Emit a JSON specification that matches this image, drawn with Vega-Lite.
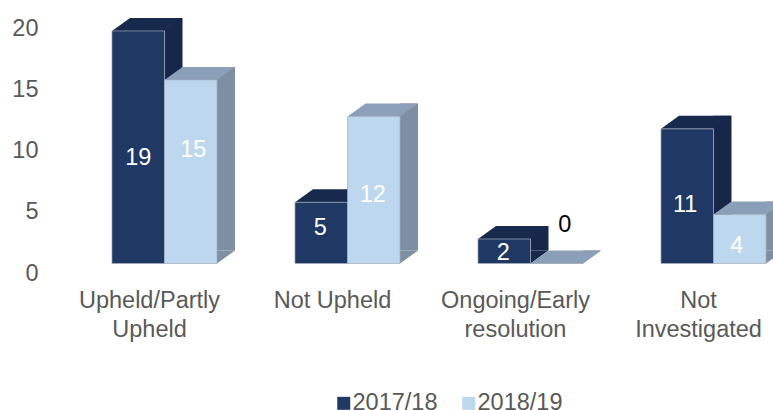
{"$schema":"https://vega.github.io/schema/vega-lite/v6.json","width":732,"height":244.8,"autosize":"none","padding":{"left":73,"top":18.7,"right":0,"bottom":146.5},"background":"white","config":{"view":{"stroke":null},"text":{"font":"Liberation Sans"}},"data":{"values":[{"category":"Upheld/Partly Upheld","series":"2017/18","value":19},{"category":"Upheld/Partly Upheld","series":"2018/19","value":15},{"category":"Not Upheld","series":"2017/18","value":5},{"category":"Not Upheld","series":"2018/19","value":12},{"category":"Ongoing/Early resolution","series":"2017/18","value":2},{"category":"Ongoing/Early resolution","series":"2018/19","value":0},{"category":"Not Investigated","series":"2017/18","value":11},{"category":"Not Investigated","series":"2018/19","value":4}]},"encoding":{"x":{"field":"category","type":"nominal","sort":null,"title":null,"scale":{"domain":["Upheld/Partly Upheld","Not Upheld","Ongoing/Early resolution","Not Investigated"],"paddingInner":0.426,"paddingOuter":0.213},"axis":{"domain":false,"ticks":false,"labelAngle":0,"labelFont":"Liberation Sans","labelFontSize":23.5,"labelColor":"#595959","labelPadding":25,"labelOffset":-15,"labelLimit":300,"labelOverlap":false,"labelLineHeight":29,"labelExpr":"datum.value=='Upheld/Partly Upheld'?['Upheld/Partly','Upheld']:datum.value=='Ongoing/Early resolution'?['Ongoing/Early','resolution']:datum.value=='Not Investigated'?['Not','Investigated']:datum.value"}},"y":{"field":"value","type":"quantitative","title":null,"scale":{"domain":[0,20],"nice":false},"axis":{"values":[0,5,10,15,20],"domain":false,"ticks":false,"grid":false,"labelFont":"Liberation Sans","labelFontSize":23.5,"labelColor":"#595959","labelPadding":35,"labelOffset":9.5}}},"layer":[{"transform":[{"filter":"datum.series=='2017/18'"}],"mark":{"type":"rule","strokeWidth":18,"xOffset":9,"yOffset":-13,"y2Offset":-13,"color":"#16274A"},"encoding":{"y2":{"datum":0}}},{"transform":[{"filter":"datum.series=='2017/18'"}],"mark":{"type":"point","shape":"M0,0L18,-13L0,-13Z","size":4,"filled":true,"opacity":1,"strokeWidth":0,"color":"#16274A"},"encoding":{"y":{"datum":0}}},{"transform":[{"filter":"datum.series=='2017/18'"}],"mark":{"type":"point","shape":"M-52.5,0L0,0L18,-13L-34.5,-13Z","size":4,"filled":true,"opacity":1,"strokeWidth":0,"color":"#17294C"}},{"transform":[{"filter":"datum.series=='2017/18'"}],"mark":{"type":"bar","stroke":"#A3ACBA","strokeWidth":0.7},"encoding":{"xOffset":{"field":"series","type":"nominal","scale":{"domain":["2017/18","2018/19"],"paddingInner":0,"paddingOuter":0}},"color":{"field":"series","type":"nominal","scale":{"domain":["2017/18","2018/19"],"range":["#1F3864","#BDD7EE"]},"legend":{"orient":"none","legendX":259,"legendY":372.5,"direction":"horizontal","title":null,"symbolType":"square","symbolSize":169,"symbolStrokeWidth":0,"labelFont":"Liberation Sans","labelFontSize":23.5,"labelColor":"#595959","labelOffset":-3,"columnPadding":19}}}},{"transform":[{"filter":"datum.series=='2018/19'"}],"mark":{"type":"rule","strokeWidth":18,"xOffset":61.5,"yOffset":-13,"y2Offset":-13,"color":"#7E8EA3"},"encoding":{"y2":{"datum":0}}},{"transform":[{"filter":"datum.series=='2018/19'"}],"mark":{"type":"point","shape":"M52.5,0L70.5,-13L52.5,-13Z","size":4,"filled":true,"opacity":1,"strokeWidth":0,"color":"#7E8EA3"},"encoding":{"y":{"datum":0}}},{"transform":[{"filter":"datum.series=='2018/19'"}],"mark":{"type":"point","shape":"M0,0L52.5,0L70.5,-13L18,-13Z","size":4,"filled":true,"opacity":1,"strokeWidth":0,"color":"#8C9FB8"}},{"transform":[{"filter":"datum.series=='2018/19'"}],"mark":{"type":"bar","stroke":"#A3ACBA","strokeWidth":0.7},"encoding":{"xOffset":{"field":"series","type":"nominal","scale":{"domain":["2017/18","2018/19"],"paddingInner":0,"paddingOuter":0}},"color":{"field":"series","type":"nominal"}}},{"transform":[{"filter":"datum.series=='2017/18'&&datum.category=='Upheld/Partly Upheld'"}],"mark":{"type":"text","fontSize":23.5,"color":"white","yOffset":127,"xOffset":-26.25},"encoding":{"text":{"field":"value"}}},{"transform":[{"filter":"datum.series=='2018/19'&&datum.category=='Upheld/Partly Upheld'"}],"mark":{"type":"text","fontSize":23.5,"color":"white","yOffset":70,"xOffset":28.75},"encoding":{"text":{"field":"value"}}},{"transform":[{"filter":"datum.series=='2017/18'&&datum.category=='Not Upheld'"}],"mark":{"type":"text","fontSize":23.5,"color":"white","yOffset":26,"xOffset":-27.25},"encoding":{"text":{"field":"value"}}},{"transform":[{"filter":"datum.series=='2018/19'&&datum.category=='Not Upheld'"}],"mark":{"type":"text","fontSize":23.5,"color":"white","yOffset":78,"xOffset":25.25},"encoding":{"text":{"field":"value"}}},{"transform":[{"filter":"datum.series=='2017/18'&&datum.category=='Ongoing/Early resolution'"}],"mark":{"type":"text","fontSize":23.5,"color":"white","yOffset":14,"xOffset":-27.25},"encoding":{"text":{"field":"value"}}},{"transform":[{"filter":"datum.series=='2018/19'&&datum.category=='Ongoing/Early resolution'"}],"mark":{"type":"text","fontSize":23.5,"color":"black","yOffset":-39,"xOffset":34.25},"encoding":{"text":{"field":"value"}}},{"transform":[{"filter":"datum.series=='2017/18'&&datum.category=='Not Investigated'"}],"mark":{"type":"text","fontSize":23.5,"color":"white","yOffset":76,"xOffset":-28.25},"encoding":{"text":{"field":"value"}}},{"transform":[{"filter":"datum.series=='2018/19'&&datum.category=='Not Investigated'"}],"mark":{"type":"text","fontSize":23.5,"color":"white","yOffset":31,"xOffset":23.25},"encoding":{"text":{"field":"value"}}}]}
